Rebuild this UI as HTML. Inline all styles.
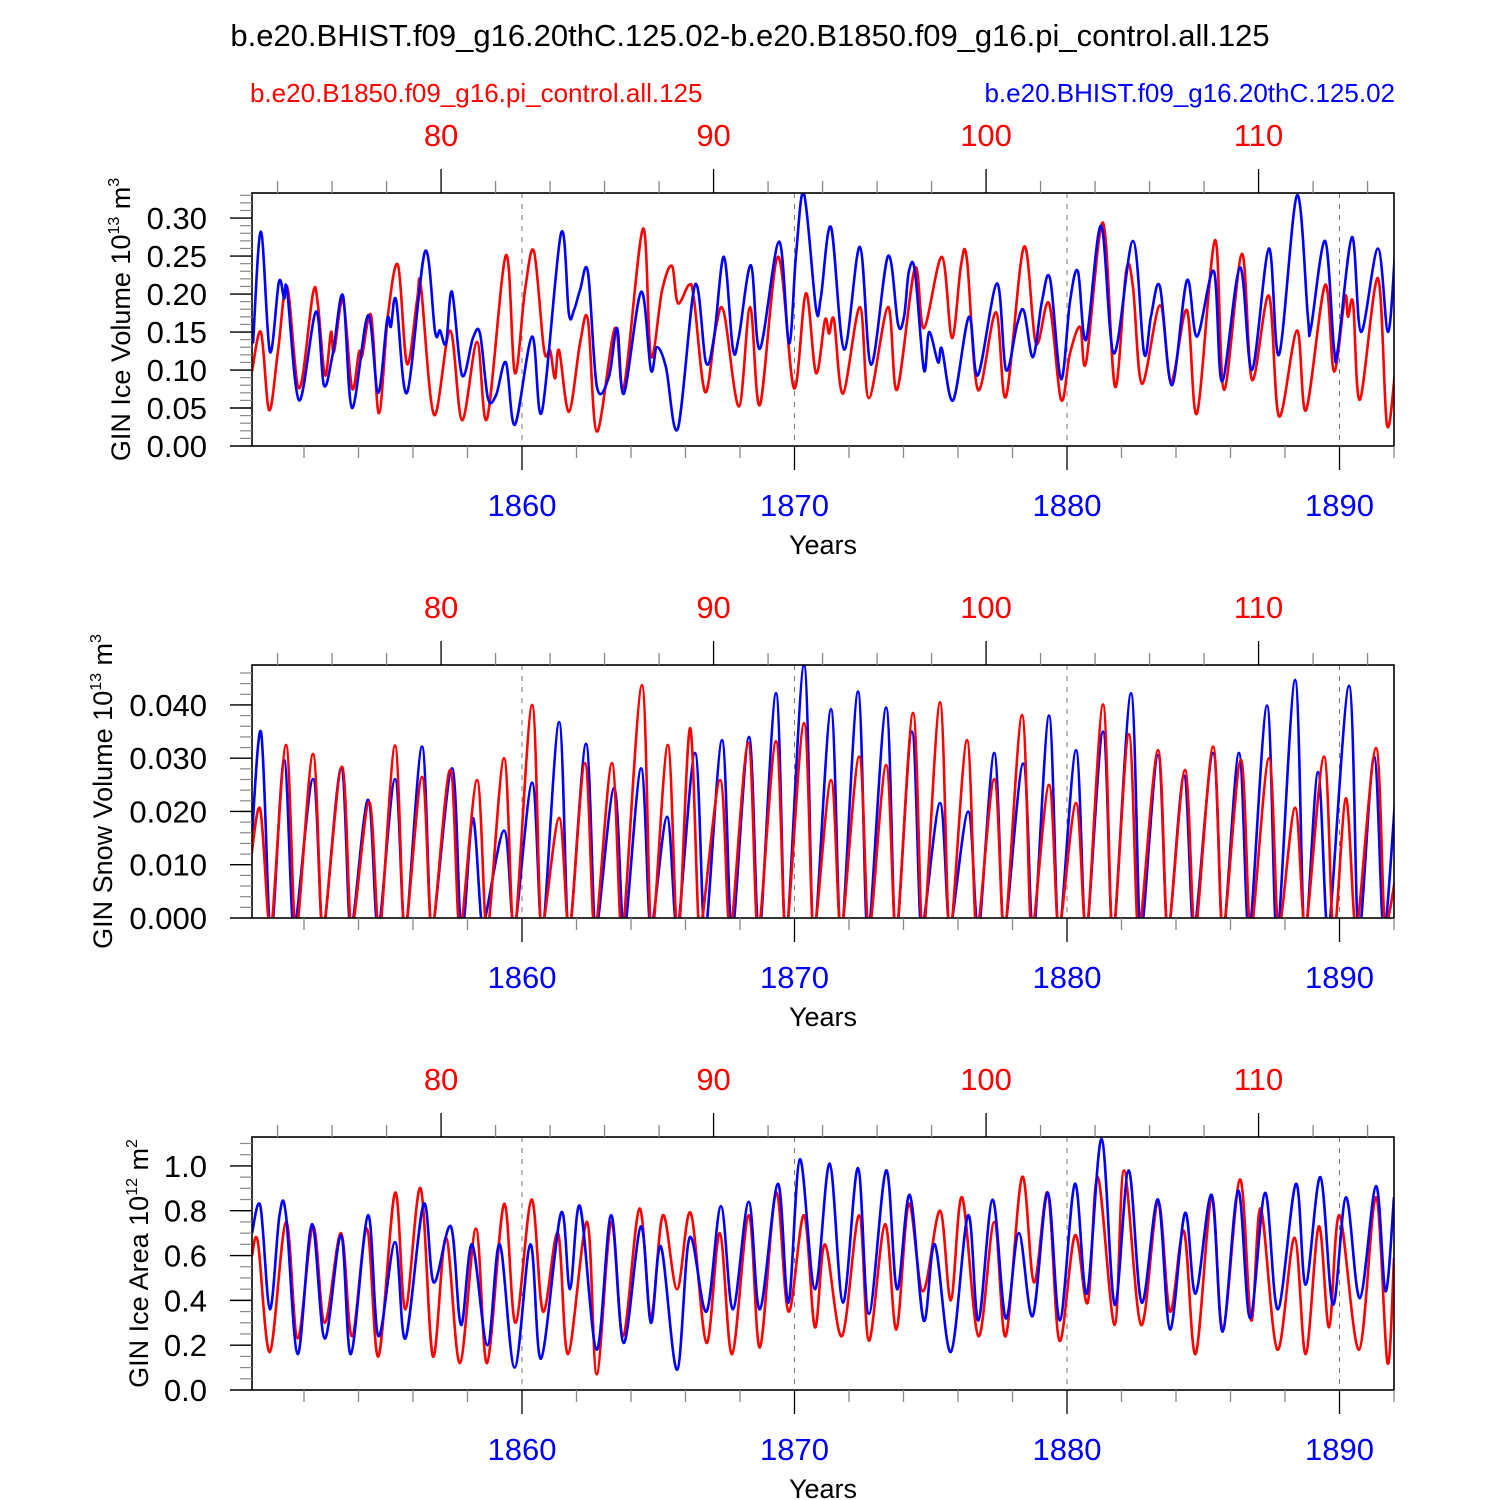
<!DOCTYPE html>
<html><head><meta charset="utf-8"><style>
html,body{margin:0;padding:0;background:#fff}
svg{display:block;font-family:"Liberation Sans",Arial,sans-serif}
</style></head><body>
<svg id="chart" width="1500" height="1500" viewBox="0 0 1500 1500" xmlns="http://www.w3.org/2000/svg">
<text x="750" y="46" font-size="31" text-anchor="middle">b.e20.BHIST.f09_g16.20thC.125.02-b.e20.B1850.f09_g16.pi_control.all.125</text>
<text x="250" y="102" font-size="26" fill="#ff0000">b.e20.B1850.f09_g16.pi_control.all.125</text>
<text x="1395" y="102" font-size="26" fill="#0000ff" text-anchor="end">b.e20.BHIST.f09_g16.20thC.125.02</text>
</svg>
<script>
// ---------- data (time = years since 1850) ----------
const p1BlueT=[0.13,0.42,0.75,1.08,1.27,1.38,1.82,2.44,2.73,3.06,3.43,3.76,4.35,4.72,5.05,5.19,5.38,5.78,6.44,6.81,6.99,7.21,7.43,7.80,8.20,8.46,8.75,9.05,9.41,9.74,10.37,10.73,11.43,11.72,11.91,12.13,12.42,12.75,13.19,13.49,13.74,14.37,14.73,14.95,15.28,15.72,16.35,16.75,17.05,17.41,17.74,17.96,18.40,18.73,19.43,19.80,20.06,20.35,20.79,20.97,21.34,21.82,22.40,22.81,23.43,23.80,24.02,24.20,24.42,24.75,24.94,25.27,25.41,25.82,26.40,26.73,27.43,27.76,28.17,28.42,28.75,29.08,29.38,29.78,30.11,30.40,30.70,31.25,31.72,32.42,32.83,33.08,33.41,33.85,34.40,34.77,35.39,35.69,36.35,36.79,37.41,37.78,38.44,38.84,38.95,39.47,39.80,39.94,40.46,40.79,41.41,41.78,42.04];
const p1BlueV=[0.135,0.282,0.124,0.216,0.194,0.205,0.06,0.177,0.08,0.122,0.198,0.05,0.172,0.07,0.166,0.157,0.192,0.07,0.256,0.15,0.152,0.135,0.203,0.093,0.142,0.148,0.063,0.067,0.11,0.028,0.144,0.045,0.28,0.174,0.179,0.205,0.229,0.078,0.091,0.155,0.069,0.203,0.10,0.13,0.104,0.023,0.212,0.11,0.144,0.249,0.128,0.144,0.238,0.128,0.269,0.135,0.253,0.332,0.181,0.196,0.288,0.127,0.262,0.107,0.25,0.16,0.17,0.23,0.23,0.10,0.15,0.11,0.128,0.06,0.17,0.093,0.214,0.10,0.16,0.178,0.117,0.19,0.22,0.088,0.19,0.23,0.14,0.29,0.122,0.27,0.122,0.17,0.21,0.08,0.218,0.144,0.23,0.085,0.235,0.10,0.26,0.12,0.33,0.17,0.155,0.27,0.128,0.128,0.275,0.15,0.26,0.15,0.256];
const p1RedT=[0.09,0.42,0.72,1.05,1.38,1.82,2.33,2.51,2.77,2.99,3.10,3.43,3.76,4.02,4.13,4.46,4.75,5.08,5.45,5.78,6.15,6.29,6.77,7.36,7.80,8.35,8.72,9.41,9.74,10.11,10.44,10.81,11.03,11.21,11.36,11.72,12.13,12.42,12.75,13.41,13.74,14.44,14.73,15.14,15.50,15.72,16.13,16.31,16.72,17.12,17.41,17.96,18.37,18.73,19.39,19.98,20.42,20.79,21.12,21.27,21.45,21.78,22.40,22.73,23.43,23.76,24.42,24.75,25.41,25.78,26.11,26.33,26.73,27.39,27.76,28.42,28.86,29.34,29.78,30.11,30.48,30.70,31.32,31.76,32.17,32.42,32.75,33.41,33.82,34.40,34.77,35.43,35.76,36.42,36.79,37.41,37.78,38.44,38.77,39.47,39.80,40.20,40.31,40.50,40.75,41.41,41.74,42.04];
const p1RedV=[0.098,0.15,0.047,0.126,0.21,0.076,0.201,0.186,0.093,0.15,0.124,0.192,0.076,0.124,0.118,0.172,0.043,0.172,0.238,0.108,0.192,0.21,0.041,0.152,0.034,0.137,0.036,0.251,0.096,0.205,0.256,0.126,0.126,0.089,0.126,0.045,0.135,0.166,0.019,0.155,0.078,0.286,0.118,0.205,0.237,0.188,0.212,0.194,0.071,0.157,0.176,0.052,0.183,0.054,0.249,0.076,0.201,0.096,0.166,0.148,0.166,0.069,0.183,0.063,0.183,0.074,0.234,0.155,0.249,0.142,0.238,0.245,0.074,0.176,0.065,0.262,0.135,0.188,0.061,0.122,0.157,0.11,0.294,0.078,0.23,0.21,0.082,0.185,0.085,0.179,0.043,0.271,0.074,0.253,0.087,0.198,0.039,0.152,0.047,0.212,0.098,0.196,0.17,0.188,0.061,0.221,0.028,0.098];

// panel 2: annual snow-volume peaks (peak time, value); troughs reach zero
const p2BlueT=[0.42,1.27,2.33,3.36,4.35,5.34,6.33,7.43,8.20,9.34,10.37,11.36,12.35,13.38,14.37,15.32,16.35,17.34,18.33,19.32,20.35,21.34,22.33,23.36,24.31,25.34,26.37,27.33,28.39,29.34,30.33,31.32,32.35,33.34,34.29,35.36,36.31,37.34,38.37,39.21,40.35,41.27];
const p2BlueV=[0.035,0.0297,0.0261,0.0281,0.0222,0.0261,0.0322,0.0281,0.0188,0.0164,0.0254,0.0368,0.0327,0.0244,0.0281,0.019,0.031,0.0334,0.034,0.0422,0.0475,0.0392,0.0425,0.0395,0.035,0.0216,0.02,0.031,0.029,0.038,0.0315,0.035,0.0422,0.0306,0.0268,0.031,0.031,0.0399,0.0447,0.0274,0.0436,0.0303];
const p2RedT=[0.39,1.34,2.33,3.39,4.39,5.34,6.33,7.36,8.35,9.34,10.37,11.36,12.31,13.30,14.40,15.35,16.17,17.27,18.30,19.32,20.35,21.34,22.37,23.36,24.35,25.34,26.33,27.33,28.35,29.34,30.33,31.32,32.27,33.34,34.33,35.36,36.38,37.41,38.37,39.43,40.24,41.34];
const p2RedV=[0.0205,0.0325,0.0308,0.0284,0.0218,0.0324,0.0265,0.0278,0.0259,0.030,0.040,0.0188,0.0291,0.0291,0.0437,0.0325,0.0357,0.0259,0.0329,0.0332,0.0366,0.0259,0.0303,0.0287,0.0385,0.0405,0.0334,0.0261,0.0381,0.025,0.0216,0.0401,0.0345,0.0315,0.0278,0.0322,0.0297,0.030,0.0207,0.0303,0.0225,0.0319];
const p2BlueStart=0.012, p2BlueEnd=0.0231, p2RedStart=0.011, p2RedEnd=0.0077;

// panel 3: ice area extremes (alternating)
const p3BlueT=[0.09,0.40,0.75,1.10,1.34,1.77,2.29,2.76,3.36,3.72,4.35,4.73,5.34,5.72,6.39,6.76,7.39,7.76,8.17,8.73,9.18,9.73,10.31,10.70,11.43,11.76,12.13,12.74,13.27,13.73,14.36,14.73,15.10,15.69,16.15,16.77,17.30,17.74,18.32,18.73,19.39,19.78,20.20,20.75,21.29,21.78,22.33,22.73,23.36,23.76,24.23,24.74,25.15,25.74,26.37,26.75,27.27,27.75,28.23,28.74,29.29,29.74,30.29,30.73,31.27,31.75,32.26,32.74,33.34,33.78,34.33,34.72,35.31,35.71,36.28,36.72,37.27,37.74,38.40,38.76,39.30,39.76,40.24,40.75,41.34,41.69,42.0];
const p3BlueV=[0.70,0.82,0.36,0.78,0.78,0.16,0.74,0.23,0.69,0.16,0.78,0.24,0.66,0.23,0.83,0.48,0.73,0.29,0.65,0.20,0.65,0.10,0.65,0.14,0.79,0.45,0.82,0.18,0.78,0.21,0.73,0.30,0.64,0.09,0.68,0.35,0.82,0.36,0.84,0.36,0.92,0.39,1.03,0.45,1.01,0.39,0.99,0.34,0.98,0.45,0.87,0.31,0.65,0.17,0.78,0.31,0.85,0.32,0.70,0.33,0.88,0.31,0.92,0.43,1.12,0.38,0.98,0.39,0.85,0.27,0.79,0.43,0.87,0.26,0.89,0.32,0.88,0.36,0.92,0.47,0.95,0.38,0.86,0.41,0.91,0.44,0.86];
const p3RedT=[0.09,0.31,0.75,1.34,1.77,2.33,2.76,3.36,3.76,4.31,4.73,5.34,5.72,6.28,6.73,7.21,7.72,8.31,8.72,9.34,9.76,10.35,10.77,11.32,11.69,12.39,12.74,13.27,13.71,14.31,14.73,15.17,15.69,16.19,16.77,17.26,17.71,18.32,18.73,19.32,19.78,20.35,20.75,21.12,21.74,22.37,22.73,23.32,23.74,24.19,24.71,25.34,25.74,26.15,26.75,27.33,27.75,28.35,28.79,29.30,29.72,30.29,30.76,31.13,31.75,32.09,32.72,33.34,33.78,34.29,34.72,35.31,35.72,36.35,36.76,37.11,37.72,38.35,38.76,39.24,39.62,40.0,40.72,41.34,41.76,42.0];
const p3RedV=[0.60,0.66,0.17,0.75,0.23,0.73,0.30,0.70,0.24,0.72,0.15,0.88,0.36,0.90,0.15,0.68,0.12,0.72,0.12,0.83,0.30,0.85,0.35,0.70,0.16,0.75,0.07,0.75,0.24,0.81,0.33,0.78,0.45,0.79,0.21,0.70,0.16,0.78,0.19,0.88,0.35,0.78,0.28,0.65,0.24,0.78,0.22,0.74,0.27,0.83,0.44,0.80,0.40,0.86,0.24,0.75,0.24,0.95,0.48,0.88,0.22,0.69,0.39,0.95,0.29,0.98,0.29,0.84,0.35,0.71,0.16,0.86,0.27,0.94,0.31,0.81,0.18,0.68,0.16,0.73,0.28,0.78,0.18,0.86,0.12,0.59];

const bottomTicks=[1860,1870,1880,1890];
const topTicks=[80,90,100,110];
const p1YTicks=[0,0.05,0.10,0.15,0.20,0.25,0.30];
const p1YLabels=["0.00","0.05","0.10","0.15","0.20","0.25","0.30"];
const p2YTicks=[0,0.01,0.02,0.03,0.04];
const p2YLabels=["0.000","0.010","0.020","0.030","0.040"];
const p3YTicks=[0,0.2,0.4,0.6,0.8,1.0];
const p3YLabels=["0.0","0.2","0.4","0.6","0.8","1.0"];

// ---------- drawing ----------
const NS="http://www.w3.org/2000/svg";
const svg=document.getElementById('chart');
const X0=252,X1=1394,PH=253;
const T0=1850, PX_PER_YR=27.25, XORIGIN=249.5;
const PI_OFFSET=1777.03;
function xOf(t){return XORIGIN+t*PX_PER_YR;}
function xYear(y){return xOf(y-T0);}
function mk(tag,attrs,parent){const e=document.createElementNS(NS,tag);for(const k in attrs)e.setAttribute(k,attrs[k]);(parent||svg).appendChild(e);return e;}

// smooth path through points (Catmull-Rom, reduced tension)
function smoothPath(P){
  let d='M'+P[0][0].toFixed(1)+','+P[0][1].toFixed(1);
  const k=0.5/3;
  for(let i=0;i<P.length-1;i++){
    const p0=P[Math.max(0,i-1)],p1=P[i],p2=P[i+1],p3=P[Math.min(P.length-1,i+2)];
    const c1x=p1[0]+(p2[0]-p0[0])*k, c1y=p1[1]+(p2[1]-p0[1])*k;
    const c2x=p2[0]-(p3[0]-p1[0])*k, c2y=p2[1]-(p3[1]-p1[1])*k;
    d+=' C'+c1x.toFixed(1)+','+c1y.toFixed(1)+' '+c2x.toFixed(1)+','+c2y.toFixed(1)+' '+p2[0].toFixed(1)+','+p2[1].toFixed(1);
  }
  return d;
}

function panel(idx,top,ymax,yTicks,yLabels,minorStep,ylabelMain,ylabelExp,ylabelUnit,ylabelX,series){
  const bot=top+PH;
  const yOf=v=>bot-v/ymax*PH;
  const g=mk('g',{});
  
  
  const clipId='clip'+idx;
  const cp=mk('clipPath',{id:clipId},g);
  mk('rect',{x:X0,y:top,width:X1-X0,height:PH},cp);
  bottomTicks.forEach(yr=>{
    const l=mk('line',{x1:xYear(yr),x2:xYear(yr),y1:top,y2:bot,stroke:'#777','stroke-width':1,'stroke-dasharray':'5,6'},g);
    
    
  });
  series.forEach(s=>{
    const P=s.t.map((t,i)=>[xOf(t),yOf(s.v[i])]);
    const pl=mk('path',{d:smoothPath(P),fill:'none',stroke:s.color,'stroke-width':2.6,'stroke-linejoin':'round','clip-path':'url(#'+clipId+')'},g);
    
    
  });
  const fr=mk('rect',{x:X0,y:top,width:X1-X0,height:PH,fill:'none',stroke:'#000','stroke-width':1.6},g);
  
  
  for(let v=0;v<=ymax+1e-9;v+=minorStep){
    mk('line',{x1:X0-12,x2:X0,y1:yOf(v),y2:yOf(v),stroke:'#888','stroke-width':1.2},g);
  }
  yTicks.forEach((v,i)=>{
    mk('line',{x1:X0-22,x2:X0,y1:yOf(v),y2:yOf(v),stroke:'#000','stroke-width':1.4},g);
    const t=mk('text',{x:207,y:yOf(v)+11,'font-size':31,'text-anchor':'end'},g);
    t.textContent=yLabels[i];
    
    
  });
  for(let yr=1852;yr<=1892;yr+=2){
    const major=bottomTicks.includes(yr);
    mk('line',{x1:xYear(yr),x2:xYear(yr),y1:bot,y2:bot+(major?24:12),stroke:major?'#000':'#888','stroke-width':1.3},g);
  }
  bottomTicks.forEach(yr=>{
    const t=mk('text',{x:xYear(yr),y:bot+70,'font-size':31,'text-anchor':'middle',fill:'#0000ff'},g);
    t.textContent=yr;
    
    
  });
  for(let p=74;p<=114;p+=2){
    const major=topTicks.includes(p);
    const x=xYear(p+PI_OFFSET);
    if(x<X0-1||x>X1+1)continue;
    mk('line',{x1:x,x2:x,y1:top,y2:top-(major?24:12),stroke:major?'#000':'#888','stroke-width':1.3},g);
  }
  topTicks.forEach(p=>{
    const t=mk('text',{x:xYear(p+PI_OFFSET),y:top-47,'font-size':31,'text-anchor':'middle',fill:'#ff0000'},g);
    t.textContent=p;
    
    
  });
  const xt=mk('text',{x:823,y:bot+108,'font-size':27,'text-anchor':'middle'},g);
  xt.textContent='Years';
  
  
  const cy=top+PH/2;
  const yt=mk('text',{x:0,y:0,'font-size':27,'text-anchor':'middle',transform:'translate('+ylabelX+','+cy+') rotate(-90)'},g);
  
  
  const a=mk('tspan',{},yt);a.textContent=ylabelMain+' 10';
  const b=mk('tspan',{'font-size':16,dy:-11},yt);b.textContent=ylabelExp;
  const c=mk('tspan',{dy:11},yt);c.textContent=' m';
  const d=mk('tspan',{'font-size':16,dy:-11},yt);d.textContent=ylabelUnit;
}

function snowPath(T,V,start,end){
  const t=[0.05],v=[start];
  T.forEach((tp,i)=>{
    if(i>0){t.push(T[i-1]+0.30);v.push(0);t.push(T[i-1]+0.45);v.push(0);}
    t.push(tp);v.push(V[i]);
  });
  const last=T[T.length-1];
  t.push(last+0.30);v.push(0);t.push(last+0.45);v.push(0);
  t.push(42.05);v.push(end);
  return {t,v};
}

panel(1,193,0.333,p1YTicks,p1YLabels,0.01,'GIN Ice Volume','13','3',130,[
  {t:p1RedT,v:p1RedV,color:'#ff0000',name:'series-control-ice-volume'},
  {t:p1BlueT,v:p1BlueV,color:'#0000ff',name:'series-hist-ice-volume'}]);
const sb=snowPath(p2BlueT,p2BlueV,p2BlueStart,p2BlueEnd);
const sr=snowPath(p2RedT,p2RedV,p2RedStart,p2RedEnd);
panel(2,665,0.0475,p2YTicks,p2YLabels,0.002,'GIN Snow Volume','13','3',112,[
  {t:sb.t,v:sb.v,color:'#0000ff',name:'series-hist-snow-volume'},
  {t:sr.t,v:sr.v,color:'#ff0000',name:'series-control-snow-volume'}]);
panel(3,1137,1.129,p3YTicks,p3YLabels,0.05,'GIN Ice Area','12','2',148,[
  {t:p3RedT,v:p3RedV,color:'#ff0000',name:'series-control-ice-area'},
  {t:p3BlueT,v:p3BlueV,color:'#0000ff',name:'series-hist-ice-area'}]);
</script>
</body></html>
